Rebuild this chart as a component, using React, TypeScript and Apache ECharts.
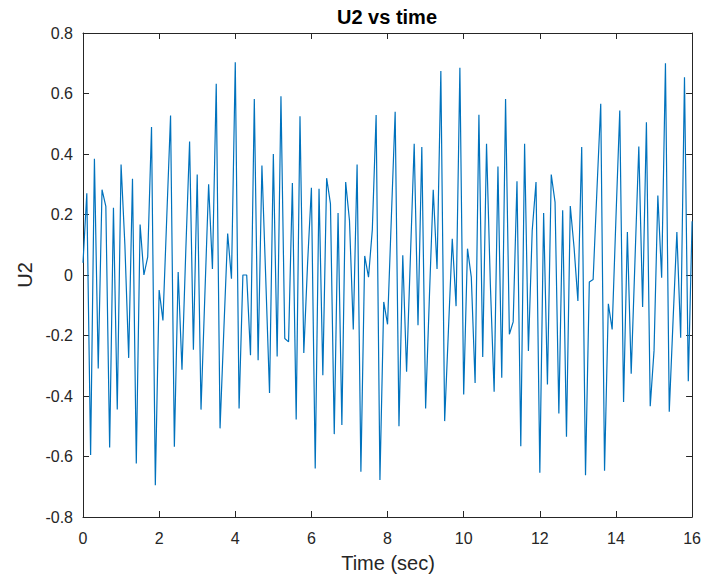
import React, { useEffect, useRef } from "react";
import * as echarts from "echarts";

// Sampled signal U2, one sample every 0.1 s from 0 to 16 s
const SAMPLE_STEP = 0.1;
const u2Values: number[] = [
  0.04, 0.27, -0.595, 0.384, -0.309, 0.282, 0.227, -0.57, 0.222, -0.445,
  0.365, 0.1, -0.274, 0.318, -0.623, 0.167, 0.0, 0.06, 0.489, -0.695,
  -0.05, -0.15, 0.19, 0.527, -0.568, 0.01, -0.313, 0.08, 0.441, -0.247,
  0.332, -0.445, -0.07, 0.3, 0.02, 0.632, -0.507, -0.18, 0.137, -0.012,
  0.703, -0.441, 0.0, 0.0, -0.265, 0.582, -0.282, 0.362, -0.01, -0.39,
  0.4, -0.269, 0.591, -0.21, -0.221, 0.304, -0.478, 0.525, -0.258, 0.04,
  0.288, -0.64, 0.285, -0.331, 0.32, 0.236, -0.526, 0.205, -0.496, 0.307,
  0.18, -0.18, 0.365, -0.65, 0.063, -0.007, 0.15, 0.529, -0.678, -0.089,
  -0.163, 0.19, 0.54, -0.5, 0.065, -0.32, 0.057, 0.434, -0.166, 0.423,
  -0.441, -0.07, 0.282, 0.02, 0.674, -0.483, -0.18, 0.12, -0.103, 0.685,
  -0.395, 0.087, -0.007, -0.357, 0.53, -0.271, 0.434, -0.03, -0.386, 0.359,
  -0.34, 0.582, -0.196, -0.155, 0.31, -0.566, 0.434, -0.251, 0.147, 0.307,
  -0.654, 0.205, -0.362, 0.332, 0.241, -0.458, 0.214, -0.535, 0.228, 0.09,
  -0.086, 0.423, -0.662, -0.023, -0.015, 0.28, 0.566, -0.647, -0.095, -0.18,
  0.19, 0.544, -0.42, 0.142, -0.326, 0.05, 0.425, -0.106, 0.505, -0.434,
  -0.25, 0.263, -0.009, 0.7, -0.452, -0.15, 0.142, -0.207, 0.654, -0.351,
  0.178,
];

const X_MIN = 0;
const X_MAX = 16;
const X_INTERVAL = 2;
const Y_MIN = -0.8;
const Y_MAX = 0.8;
const Y_INTERVAL = 0.2;

const TITLE = "U2 vs time";
const X_LABEL = "Time (sec)";
const Y_LABEL = "U2";

const FONT = '"Liberation Sans", Arial, Helvetica, sans-serif';
const AXIS_COLOR = "#262626";
const LINE_COLOR = "#0072BD";

export default function App() {
  const ref = useRef<HTMLDivElement>(null);

  useEffect(() => {
    document.body.style.margin = "0";
    if (!ref.current) return;
    const chart = echarts.init(ref.current, undefined, { renderer: "svg" });

    const seriesData = u2Values.map((v, i) => [
      Math.round(i * SAMPLE_STEP * 10) / 10,
      v,
    ]);

    const yFmt = (v: number) => {
      const r = Math.round(v * 10) / 10;
      return r === 0 ? "0" : r.toFixed(1);
    };

    const baseAxisLine = {
      show: true,
      onZero: false,
      lineStyle: { color: AXIS_COLOR, width: 1 },
    };
    const baseTick = {
      show: true,
      inside: true,
      length: 6,
      lineStyle: { color: AXIS_COLOR, width: 1 },
    };

    chart.setOption({
      animation: false,
      backgroundColor: "#ffffff",
      grid: { left: 83, right: 11, top: 33, bottom: 60, containLabel: false },
      xAxis: [
        {
          type: "value",
          min: X_MIN,
          max: X_MAX,
          interval: X_INTERVAL,
          position: "bottom",
          axisLine: baseAxisLine,
          axisTick: baseTick,
          splitLine: { show: false },
          axisLabel: {
            color: AXIS_COLOR,
            fontFamily: FONT,
            fontSize: 16,
            margin: 13,
          },
        },
        {
          type: "value",
          min: X_MIN,
          max: X_MAX,
          interval: X_INTERVAL,
          position: "top",
          axisLine: baseAxisLine,
          axisTick: baseTick,
          splitLine: { show: false },
          axisLabel: { show: false },
        },
      ],
      yAxis: [
        {
          type: "value",
          min: Y_MIN,
          max: Y_MAX,
          interval: Y_INTERVAL,
          position: "left",
          axisLine: baseAxisLine,
          axisTick: baseTick,
          splitLine: { show: false },
          axisLabel: {
            color: AXIS_COLOR,
            fontFamily: FONT,
            fontSize: 16,
            margin: 10,
            formatter: yFmt,
          },
        },
        {
          type: "value",
          min: Y_MIN,
          max: Y_MAX,
          interval: Y_INTERVAL,
          position: "right",
          axisLine: baseAxisLine,
          axisTick: baseTick,
          splitLine: { show: false },
          axisLabel: { show: false },
        },
      ],
      series: [
        {
          type: "line",
          xAxisIndex: 0,
          yAxisIndex: 0,
          data: seriesData,
          showSymbol: false,
          symbol: "none",
          lineStyle: { color: LINE_COLOR, width: 1.2 },
          itemStyle: { color: LINE_COLOR },
          z: 1,
        },
      ],
      graphic: [
        {
          type: "text",
          x: 387,
          y: 17,
          style: {
            text: TITLE,
            fill: "#000000",
            font: `bold 20px ${FONT}`,
            textAlign: "center",
            textVerticalAlign: "middle",
          },
        },
        {
          type: "text",
          x: 388,
          y: 563,
          style: {
            text: X_LABEL,
            fill: AXIS_COLOR,
            font: `20px ${FONT}`,
            textAlign: "center",
            textVerticalAlign: "middle",
          },
        },
        {
          type: "text",
          x: 25,
          y: 275,
          rotation: Math.PI / 2,
          style: {
            text: Y_LABEL,
            fill: AXIS_COLOR,
            font: `20px ${FONT}`,
            textAlign: "center",
            textVerticalAlign: "middle",
          },
        },
      ],
    });

    return () => {
      chart.dispose();
    };
  }, []);

  return (
    <div
      ref={ref}
      style={{ position: "fixed", left: 0, top: 0, width: 704, height: 577 }}
    />
  );
}
